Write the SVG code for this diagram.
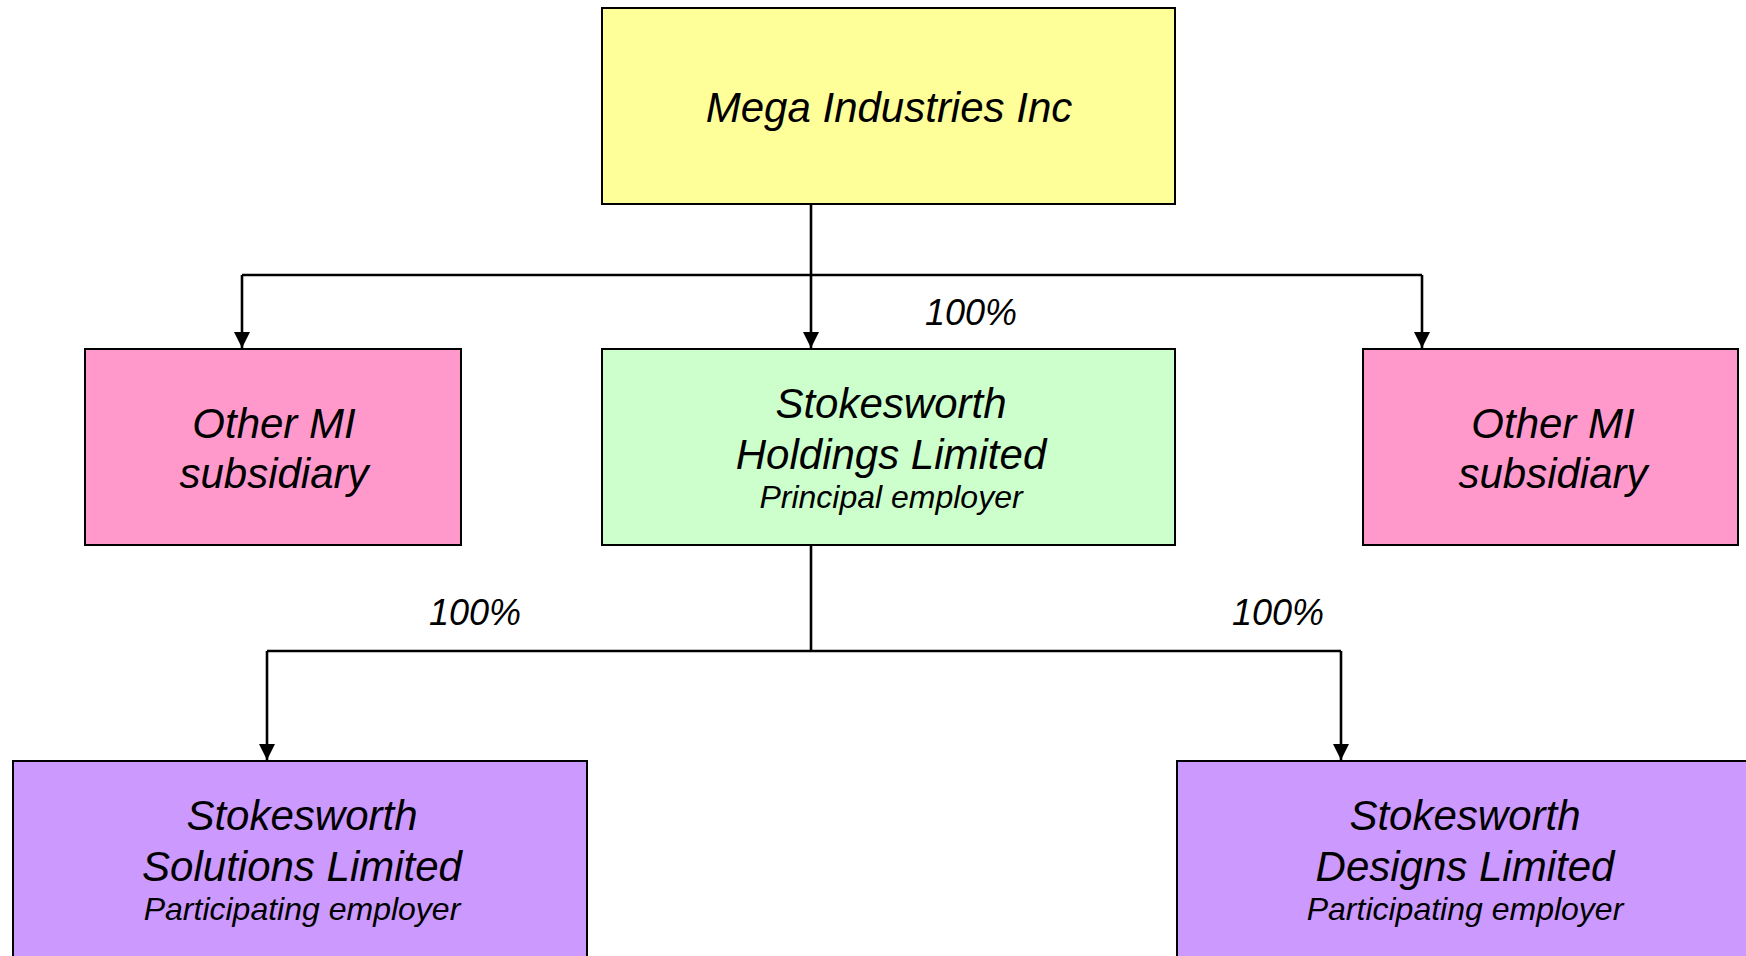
<svg xmlns="http://www.w3.org/2000/svg" width="1746" height="956" viewBox="0 0 1746 956">
<style>
.box{stroke:#000;stroke-width:2}
.t{font-family:"Liberation Sans",Arial,sans-serif;font-style:italic;fill:#000;text-anchor:middle}
.big{font-size:42px}
.sm{font-size:32px}
.pct{font-size:36px}
.ln{fill:none;stroke:#000;stroke-width:2.6}
</style>
<defs>
<marker id="ar" viewBox="0 0 10 10" refX="10" refY="5" markerWidth="16" markerHeight="16" markerUnits="userSpaceOnUse" orient="auto">
<path d="M0,0 L10,5 L0,10 Z" fill="#000"/>
</marker>
</defs>
<rect width="1746" height="956" fill="#fff"/>
<g id="connectors">
<path class="ln" d="M811,204 V275"/>
<path class="ln" d="M242,275 H1422"/>
<path class="ln" d="M242,275 V348" marker-end="url(#ar)"/>
<path class="ln" d="M811,275 V348" marker-end="url(#ar)"/>
<path class="ln" d="M1422,275 V348" marker-end="url(#ar)"/>
<path class="ln" d="M811,545 V651"/>
<path class="ln" d="M267,651 H1341"/>
<path class="ln" d="M267,651 V760" marker-end="url(#ar)"/>
<path class="ln" d="M1341,651 V760" marker-end="url(#ar)"/>
<text class="t pct" x="971" y="325">100%</text>
<text class="t pct" x="475" y="625">100%</text>
<text class="t pct" x="1278" y="625">100%</text>
</g>
<g id="mega">
<rect class="box" x="602" y="8" width="573" height="196" fill="#ffff99"/>
<text class="t big" x="889" y="122">Mega Industries Inc</text>
</g>
<g id="other-left">
<rect class="box" x="85" y="349" width="376" height="196" fill="#ff99cc"/>
<text class="t big" x="274" y="438">Other MI</text>
<text class="t big" x="274" y="488">subsidiary</text>
</g>
<g id="holdings">
<rect class="box" x="602" y="349" width="573" height="196" fill="#ccffcc"/>
<text class="t big" x="891" y="418">Stokesworth</text>
<text class="t big" x="891" y="469">Holdings Limited</text>
<text class="t sm" x="891" y="508">Principal employer</text>
</g>
<g id="other-right">
<rect class="box" x="1363" y="349" width="375" height="196" fill="#ff99cc"/>
<text class="t big" x="1553" y="438">Other MI</text>
<text class="t big" x="1553" y="488">subsidiary</text>
</g>
<g id="solutions">
<rect class="box" x="13" y="761" width="574" height="220" fill="#cc99ff"/>
<text class="t big" x="302" y="830">Stokesworth</text>
<text class="t big" x="302" y="881">Solutions Limited</text>
<text class="t sm" x="302" y="920">Participating employer</text>
</g>
<g id="designs">
<rect class="box" x="1177" y="761" width="580" height="220" fill="#cc99ff"/>
<text class="t big" x="1465" y="830">Stokesworth</text>
<text class="t big" x="1465" y="881">Designs Limited</text>
<text class="t sm" x="1465" y="920">Participating employer</text>
</g>
</svg>
